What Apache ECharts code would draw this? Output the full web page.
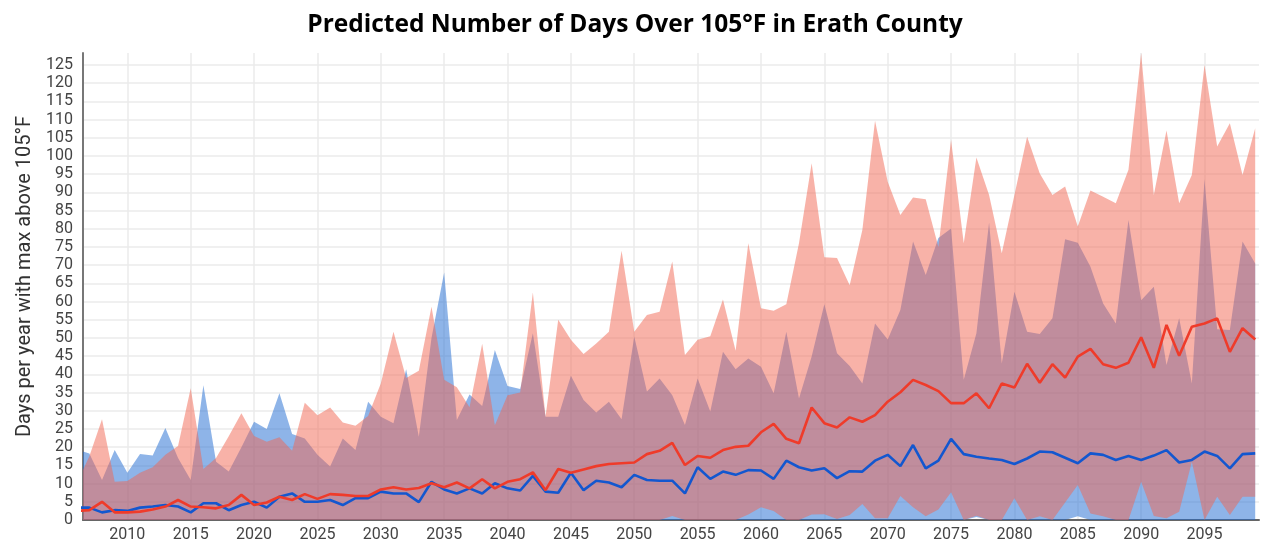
<!DOCTYPE html>
<html><head><meta charset="utf-8">
<script src="https://cdn.jsdelivr.net/npm/echarts@6/dist/echarts.min.js"></script>
<style>html,body{margin:0;padding:0;background:#fff}#c{width:1270px;height:544px}</style>
</head><body><div id="c"></div>
<script>
const years = [
 2006,2007,2008,2009,2010,2011,2012,2013,2014,2015,
 2016,2017,2018,2019,2020,2021,2022,2023,2024,2025,
 2026,2027,2028,2029,2030,2031,2032,2033,2034,2035,
 2036,2037,2038,2039,2040,2041,2042,2043,2044,2045,
 2046,2047,2048,2049,2050,2051,2052,2053,2054,2055,
 2056,2057,2058,2059,2060,2061,2062,2063,2064,2065,
 2066,2067,2068,2069,2070,2071,2072,2073,2074,2075,
 2076,2077,2078,2079,2080,2081,2082,2083,2084,2085,
 2086,2087,2088,2089,2090,2091,2092,2093,2094,2095,
 2096,2097,2098,2099];

// High-emissions range (upper / lower)
const redMax = [
 10,17.5,27.7,10.5,10.7,13,14.5,17.9,20.3,36.2,
 14,17,23,29.3,23.1,21.5,22.7,19,32.2,28.8,
 30.9,26.8,25.9,28.6,37.5,51.7,39,41,58.6,38.5,
 36.5,31,48.4,26,34.3,35,62.5,28.4,55,49.5,
 45.6,48.5,51.7,74,51.7,56.3,57.2,71,45.3,49.5,
 50.5,60.6,46.5,76,58.2,57.5,59.3,76,98,72.2,
 72,64.5,79.7,109.7,92.9,83.8,88.6,88.1,75,104.4,
 76,99.6,89.3,73.3,89.3,105.3,95.2,89.3,91.6,80.6,
 90.5,88.8,87,96.2,128.2,89.3,107,87,94.8,125,
 102.6,109,94.8,107.6];
const redMin = [
 0,0,0,0,0,0,0,0,0,0,
 0,0,0,0,0,0,0,0,0,0,
 0,0,0,0,0,0,0,0,0,0,
 0,0,0,0,0,0,0,0,0,0,
 0,0,0,0,0,0,0,1.1,0,0,
 0,0,0,1.5,3.5,2.5,0,0,1.5,1.6,
 0.3,1.4,4.4,0.5,0.5,6.6,3.5,1,2.9,7.6,
 0,1.2,0,0,6,0,1,0,4.8,9.6,
 1.8,1,0,0,10.5,1.1,0.5,2.3,16,0,
 6.4,1.4,6.4,6.4];

// Low-emissions range (upper / lower)
const blueMax = [
 19.3,18.3,11,19.2,13,18.1,17.7,25.3,17,11,
 37,16,13.3,20,27,25,34.8,23.6,22.4,17.9,
 14.7,22.4,19.2,32.5,28.4,26.6,41.4,22.9,50,68,
 27.5,34.5,31.3,46.7,36.8,36,51.3,28.4,28.4,39.6,
 33,29.5,32.5,27.7,50.4,35.3,38.9,34.3,26.1,38.9,
 29.8,46.2,41.4,44.4,42.1,34.8,51.7,33.4,44.9,59.3,
 45.8,42.3,37.5,54,49.6,57.7,76.5,67.3,77.5,80.1,
 38.5,51.3,81.7,43,62.7,51.7,51.1,55.4,77.1,76.2,
 69.6,59.5,54,82.4,60.4,64.1,42.6,55.4,37.5,93.6,
 52.4,52.2,76.5,70.5];
const blueMin = [
 0,0,0,0,0,0,0,0,0,0,
 0,0,0,0,0,0,0,0,0,0,
 0,0,0,0,0,0,0,0,0,0,
 0,0,0,0,0,0,0,0,0,0,
 0,0,0,0,0,0,0,0,0,0,
 0,0,0,0,0,0,0,0,0,0,
 0,0,0,0,0,0,0,0,0,0,
 0,0.8,0,0,0,0,0,0,0,1.0,
 0,0,0,0,0,0,0,0,0,0,
 0,0,0,0];

// Medians
const redMedian = [
 2.5,2.7,5.0,2.1,2.1,2.3,2.9,3.7,5.5,3.7,
 3.5,3.2,4.1,6.9,4.1,4.8,6.4,5.5,7.1,5.8,
 7.1,6.9,6.6,6.6,8.4,9.0,8.4,8.8,10.1,9.0,
 10.3,8.7,11.2,8.7,10.5,11.2,13.1,8.2,14.0,13.0,
 13.9,14.8,15.4,15.6,15.8,18.1,19.0,21.2,15.1,17.6,
 17.1,19.2,20.1,20.4,24.1,26.4,22.3,21.1,30.9,26.6,
 25.4,28.2,27.0,28.8,32.5,35.1,38.5,37.1,35.4,32.1,
 32.1,34.8,30.7,37.5,36.4,42.9,37.7,42.8,39.1,44.9,
 47.0,42.8,41.8,43.2,50.2,41.8,53.6,45.1,53.1,54.0,
 55.4,46.2,52.7,49.6];
const blueMedian = [
 3.4,3.4,2.1,2.7,2.5,3.4,3.7,4.1,3.7,2.1,
 4.6,4.6,2.7,4.1,5.0,3.4,6.4,7.3,5.0,5.0,
 5.5,4.1,6.0,6.0,7.8,7.3,7.3,4.9,10.5,8.4,
 7.3,8.7,7.3,10.1,8.7,8.1,12.1,7.8,7.5,13.0,
 8.2,10.8,10.3,9.0,12.4,11.0,10.8,10.8,7.3,14.5,
 11.3,13.3,12.4,13.7,13.6,11.3,16.3,14.5,13.6,14.2,
 11.5,13.4,13.3,16.3,17.9,14.8,20.6,14.2,16.3,22.3,
 18.1,17.4,16.9,16.5,15.4,16.9,18.8,18.6,17.1,15.6,
 18.3,17.9,16.5,17.6,16.5,17.7,19.2,15.8,16.5,18.8,
 17.6,14.2,18.1,18.3];

const titleText = 'Predicted Number of Days Over 105°F in Erath County';
const yAxisTitle = 'Days per year with max above 105°F';

const pair = arr => years.map((y, i) => [y, arr[i]]);

const GRID = '#ebebeb';
const ySplitColors = []; for (let i = 0; i < 26; i++) ySplitColors.push(GRID); ySplitColors.push('rgba(0,0,0,0)');
const xSplitColors = ['rgba(0,0,0,0)']; for (let i = 0; i < 18; i++) xSplitColors.push(GRID); xSplitColors.push('rgba(0,0,0,0)');

// A band (range area) drawn as one polygon through the axis scales.
function bandSeries(name, hi, lo, fill, z) {
  return {
    name, type: 'custom', z, clip: true, silent: true,
    data: years.map((y, i) => [y, hi[i], lo[i]]),
    encode: { x: 0, y: [1, 2] },
    renderItem: (params, api) => {
      if (params.dataIndex !== 0) return null;
      const top = years.map((y, i) => api.coord([y, hi[i]]));
      const bot = years.map((y, i) => api.coord([y, lo[i]])).reverse();
      return { type: 'polygon', shape: { points: top.concat(bot) }, style: { fill } };
    }
  };
}

const chart = echarts.init(document.getElementById('c'), null, { renderer: 'canvas' });
chart.setOption({
  animation: false,
  backgroundColor: '#ffffff',
  title: {
    text: titleText, left: 'center', top: 8,
    textStyle: { fontFamily: 'Open Sans', fontWeight: 'bold', fontSize: 24.5, color: '#000' }
  },
  grid: { left: 83, right: 11, top: 53, bottom: 24, containLabel: false },
  xAxis: {
    type: 'value', min: 2006.5, max: 2099.3, minInterval: 5, maxInterval: 5, splitNumber: 18,
    axisLine: { show: true, lineStyle: { color: '#666', width: 2 } },
    axisTick: { show: false },
    axisLabel: { showMinLabel: false, showMaxLabel: false, margin: 7,
      fontFamily: 'Roboto', fontSize: 16, color: '#444',
      formatter: v => (v % 5 === 0 ? String(v) : '') },
    splitLine: { show: true, lineStyle: { color: xSplitColors, width: 1.5 } }
  },
  yAxis: {
    type: 'value', min: 0, max: 128.3, interval: 5,
    name: yAxisTitle, nameLocation: 'middle', nameGap: 45,
    nameTextStyle: { fontFamily: 'Roboto', fontSize: 20, color: '#333', padding: [0, 0, 0, 20] },
    axisLine: { show: true, lineStyle: { color: '#777', width: 2 } },
    axisTick: { show: false },
    axisLabel: { showMaxLabel: false, margin: 10, fontFamily: 'Roboto', fontSize: 16, color: '#444',
      formatter: v => (v % 5 === 0 ? String(v) : '') },
    splitLine: { show: true, lineStyle: { color: ySplitColors, width: 1.5 } }
  },
  series: [
    bandSeries('Low emissions range', blueMax, blueMin, 'rgba(29,105,209,0.5)', 2),
    bandSeries('High emissions range', redMax, redMin, 'rgba(241,101,81,0.5)', 3),
    { name: 'Low emissions median', type: 'line', data: pair(blueMedian), symbol: 'none', z: 4,
      lineStyle: { color: '#1357cf', width: 2.6 } },
    { name: 'High emissions median', type: 'line', data: pair(redMedian), symbol: 'none', z: 5,
      lineStyle: { color: '#ef3b2a', width: 2.6 } }
  ]
});
</script>
</body></html>
